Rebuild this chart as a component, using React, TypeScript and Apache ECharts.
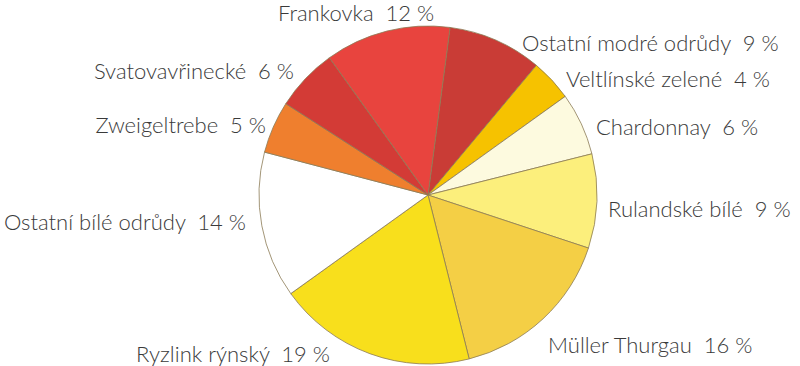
import React, { useEffect, useRef } from "react";
import * as echarts from "echarts";

const categories = [
  "Ostatní modré odrůdy",
  "Veltlínské zelené",
  "Chardonnay",
  "Rulandské bílé",
  "Müller Thurgau",
  "Ryzlink rýnský",
  "Ostatní bílé odrůdy",
  "Zweigeltrebe",
  "Svatovavřinecké",
  "Frankovka",
];
const shares = [9, 4, 6, 9, 16, 19, 14, 5, 6, 12];
const colors = [
  "#c93c36",
  "#f6c200",
  "#fdfadf",
  "#fcef7c",
  "#f4cf45",
  "#f8df1c",
  "#ffffff",
  "#ef7f2e",
  "#d33b36",
  "#e8443e",
];
// label anchor positions (x, y, align)
const labelPos: [number, number, string][] = [
  [522, 42, "left"],
  [566, 78, "left"],
  [596, 126, "left"],
  [608, 208, "left"],
  [548, 344, "left"],
  [330, 353, "right"],
  [246, 221, "right"],
  [266, 124, "right"],
  [294, 70, "right"],
  [278, 12, "left"],
];

export default function App() {
  const ref = useRef<HTMLDivElement>(null);
  useEffect(() => {
    if (!ref.current) return;
    const chart = echarts.init(ref.current, null, { renderer: "svg" });
    chart.setOption({
      animation: false,
      backgroundColor: "#ffffff",
      series: [
        {
          type: "pie",
          center: [428, 195],
          radius: [0, 169],
          startAngle: 82.5,
          clockwise: true,
          avoidLabelOverlap: false,
          data: categories.map((n, i) => ({
            name: n,
            value: shares[i],
            itemStyle: { color: colors[i] },
          })),
          itemStyle: { borderColor: "#8c7b55", borderWidth: 0.8 },
          label: {
            show: true,
            position: "outside",
            formatter: (p: any) => `${p.name}  ${p.value} %`,
            fontFamily: "Lato",
            fontWeight: 300,
            fontSize: 22,
            color: "#3a3a3a",
          },
          labelLine: { show: false },
          labelLayout: (p: any) => {
            const lp = labelPos[p.dataIndex];
            return { x: lp[0], y: lp[1], align: lp[2], verticalAlign: "middle" };
          },
          emphasis: { disabled: true },
        },
      ],
    });
    return () => chart.dispose();
  }, []);
  return (
    <div
      ref={ref}
      style={{ position: "absolute", left: 0, top: 0, width: 800, height: 366 }}
    />
  );
}
